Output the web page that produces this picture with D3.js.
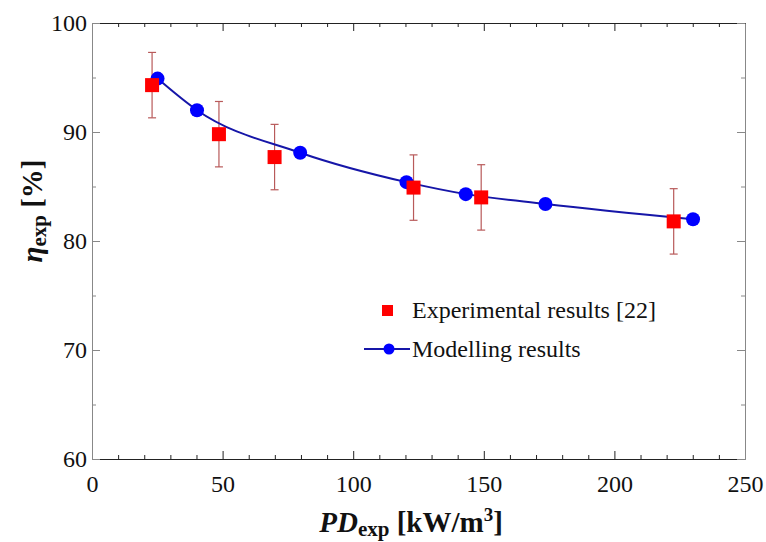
<!DOCTYPE html>
<html>
<head>
<meta charset="utf-8">
<script src="https://cdn.jsdelivr.net/npm/d3@7"></script>
<style>
  body { margin: 0; background: #fff; }
  svg { display: block; }
  svg text { font-family: "Liberation Serif", "Times New Roman", serif; }
  .tick text { font-size: 24px; fill: #111; }
</style>
</head>
<body>
<svg id="chart" width="766" height="542"></svg>
<script>
// Experimental results [22] (red squares with error bars)
const expX   = [23.0, 48.6, 69.9, 123.1, 149.0, 222.7];
const expY   = [94.3, 89.8, 87.7, 84.9, 84.0, 81.8];
const expErr = [3, 3, 3, 3, 3, 3];

// Modelling results (blue circles + line)
const modX = [25.1, 40.2, 79.7, 120.4, 143.1, 173.6, 230.1];
const modY = [94.9, 92.0, 88.1, 85.4, 84.3, 83.4, 82.0];

const xTicks = [0, 50, 100, 150, 200, 250];
const yTicks = [60, 70, 80, 90, 100];

const svg = d3.select('#chart');
const m = { left: 92, right: 745, top: 23, bottom: 459 };

const x = d3.scaleLinear().domain([0, 250]).range([m.left, m.right]);
const y = d3.scaleLinear().domain([60, 100]).range([m.bottom, m.top]);

// Frame + ticks (inward)
function axis(gen, tr, minor, hideLabels, color, pad) {
  const g = svg.append('g').attr('transform', tr);
  g.call(gen.tickSizeInner(-8).tickSizeOuter(0).tickPadding(pad));
  g.attr('font-family', null).attr('font-size', null);
  g.select('.domain').attr('stroke', color);
  g.selectAll('.tick line').attr('stroke', color);
  if (hideLabels) g.selectAll('.tick text').remove();
  const mg = svg.append('g').attr('transform', tr);
  mg.call(minor.tickSizeInner(-4).tickSizeOuter(0).tickFormat(''));
  mg.select('.domain').remove();
  mg.selectAll('.tick line').attr('stroke', color);
  return g;
}

const xMinor = d3.range(10, 250, 10).filter(v => v % 50);
const yMinor = d3.range(65, 100, 10);
axis(d3.axisBottom(x).tickValues(xTicks), `translate(0,${m.bottom})`,
     d3.axisBottom(x).tickValues(xMinor), false, '#222', 16);
axis(d3.axisTop(x).tickValues(xTicks), `translate(0,${m.top})`,
     d3.axisTop(x).tickValues(xMinor), true, '#222', 16);
axis(d3.axisLeft(y).tickValues(yTicks), `translate(${m.left},0)`,
     d3.axisLeft(y).tickValues(yMinor), false, '#888', 5);
axis(d3.axisRight(y).tickValues(yTicks), `translate(${m.right},0)`,
     d3.axisRight(y).tickValues(yMinor), true, '#888', 5);

// Error bars
const exp = expX.map((v, i) => ({ x: v, y: expY[i], e: expErr[i] }));
const eb = svg.append('g').attr('stroke', '#b85a5a').attr('stroke-width', 1.2);
exp.forEach(d => {
  eb.append('line').attr('x1', x(d.x)).attr('x2', x(d.x)).attr('y1', y(d.y + d.e)).attr('y2', y(d.y - d.e));
  eb.append('line').attr('x1', x(d.x) - 4).attr('x2', x(d.x) + 4).attr('y1', y(d.y + d.e)).attr('y2', y(d.y + d.e));
  eb.append('line').attr('x1', x(d.x) - 4).attr('x2', x(d.x) + 4).attr('y1', y(d.y - d.e)).attr('y2', y(d.y - d.e));
});

// Model line
const mod = modX.map((v, i) => ({ x: v, y: modY[i] }));
svg.append('path').datum(mod)
  .attr('fill', 'none').attr('stroke', '#1616a8').attr('stroke-width', 2)
  .attr('d', d3.line().x(d => x(d.x)).y(d => y(d.y)).curve(d3.curveMonotoneX));

svg.append('g').selectAll('circle').data(mod).join('circle')
  .attr('cx', d => x(d.x)).attr('cy', d => y(d.y)).attr('r', 7)
  .attr('fill', '#0000ff');

svg.append('g').selectAll('rect').data(exp).join('rect')
  .attr('x', d => x(d.x) - 7).attr('y', d => y(d.y) - 7)
  .attr('width', 14).attr('height', 14).attr('fill', '#ff0000');

// Legend
const lg = svg.append('g');
lg.append('rect').attr('x', 382).attr('y', 305).attr('width', 11).attr('height', 11).attr('fill', '#ff0000');
lg.append('text').attr('x', 412).attr('y', 318).attr('font-size', 24).attr('fill', '#111').text('Experimental results [22]');
lg.append('line').attr('x1', 364).attr('x2', 410).attr('y1', 349).attr('y2', 349).attr('stroke', '#1616a8').attr('stroke-width', 2);
lg.append('circle').attr('cx', 389).attr('cy', 349).attr('r', 5.5).attr('fill', '#0000ff');
lg.append('text').attr('x', 412).attr('y', 357).attr('font-size', 24).attr('fill', '#111').text('Modelling results');

// Axis titles
const xt = svg.append('text').attr('x', 411).attr('y', 532).attr('text-anchor', 'middle')
  .attr('font-size', 29).attr('font-weight', 'bold').attr('fill', '#111');
xt.append('tspan').attr('font-style', 'italic').text('PD');
xt.append('tspan').attr('font-size', 21).attr('dy', 4).text('exp');
xt.append('tspan').attr('dy', -4).text(' [kW/m');
xt.append('tspan').attr('font-size', 19).attr('dy', -11).text('3');
xt.append('tspan').attr('dy', 11).text(']');

const yt = svg.append('text').attr('transform', 'translate(42,211) rotate(-90)').attr('text-anchor', 'middle')
  .attr('font-size', 29).attr('font-weight', 'bold').attr('fill', '#111');
yt.append('tspan').attr('font-style', 'italic').text('η');
yt.append('tspan').attr('font-size', 21).attr('dy', 4).text('exp');
yt.append('tspan').attr('dy', -4).text(' [%]');
</script>
</body>
</html>
